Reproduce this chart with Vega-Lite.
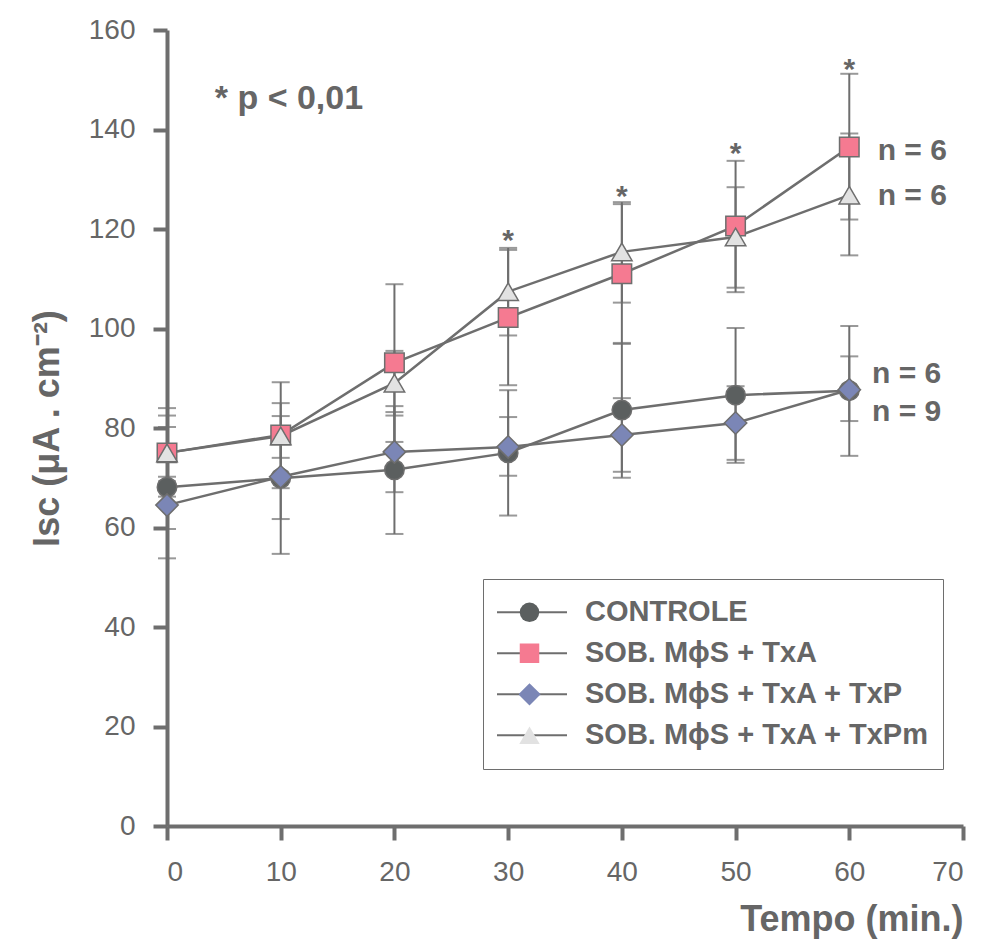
{
  "$schema": "https://vega.github.io/schema/vega-lite/v6.json",
  "width": 796,
  "height": 796,
  "autosize": {"type": "none"},
  "padding": {"left": 167, "top": 30, "right": 19, "bottom": 121},
  "background": "white",
  "config": {
    "view": {"stroke": null},
    "font": "Liberation Sans",
    "axis": {
      "domainColor": "#6e6e6e", "domainWidth": 4,
      "tickColor": "#6e6e6e", "tickWidth": 4, "tickSize": 14,
      "labelFont": "Liberation Sans", "labelFontSize": 28, "labelColor": "#666666",
      "titleFont": "Liberation Sans", "titleFontSize": 36, "titleFontWeight": "bold", "titleColor": "#666666",
      "grid": false
    },
    "axisY": {"labelPadding": 18, "titlePadding": 22},
    "axisX": {"labelPadding": 18, "titlePadding": 16, "titleAnchor": "end"}
  },
  "datasets": {
    "medias": [
      {"grupo": "CONTROLE", "t": 0, "media": 68.1, "lo": 53.8, "hi": 82.5},
      {"grupo": "CONTROLE", "t": 10, "media": 69.9, "lo": 54.7, "hi": 85.0},
      {"grupo": "CONTROLE", "t": 20, "media": 71.6, "lo": 58.7, "hi": 84.4},
      {"grupo": "CONTROLE", "t": 30, "media": 75.0, "lo": 62.4, "hi": 87.6},
      {"grupo": "CONTROLE", "t": 40, "media": 83.6, "lo": 70.0, "hi": 97.1},
      {"grupo": "CONTROLE", "t": 50, "media": 86.6, "lo": 73.0, "hi": 100.1},
      {"grupo": "CONTROLE", "t": 60, "media": 87.5, "lo": 74.4, "hi": 100.5},
      {"grupo": "SOB. MϕS + TxA", "t": 0, "media": 75.0, "lo": 66.2, "hi": 84.0},
      {"grupo": "SOB. MϕS + TxA", "t": 10, "media": 78.6, "lo": 67.9, "hi": 89.2},
      {"grupo": "SOB. MϕS + TxA", "t": 20, "media": 93.1, "lo": 77.2, "hi": 108.9},
      {"grupo": "SOB. MϕS + TxA", "t": 30, "media": 102.2, "lo": 88.6, "hi": 115.8},
      {"grupo": "SOB. MϕS + TxA", "t": 40, "media": 111.0, "lo": 96.9, "hi": 125.0},
      {"grupo": "SOB. MϕS + TxA", "t": 50, "media": 120.6, "lo": 107.3, "hi": 133.7},
      {"grupo": "SOB. MϕS + TxA", "t": 60, "media": 136.5, "lo": 121.9, "hi": 151.2},
      {"grupo": "SOB. MϕS + TxA + TxP", "t": 0, "media": 64.5, "lo": 59.7, "hi": 69.3},
      {"grupo": "SOB. MϕS + TxA + TxP", "t": 10, "media": 70.2, "lo": 61.7, "hi": 78.7},
      {"grupo": "SOB. MϕS + TxA + TxP", "t": 20, "media": 75.2, "lo": 67.1, "hi": 83.2},
      {"grupo": "SOB. MϕS + TxA + TxP", "t": 30, "media": 76.2, "lo": 70.4, "hi": 82.2},
      {"grupo": "SOB. MϕS + TxA + TxP", "t": 40, "media": 78.6, "lo": 71.2, "hi": 86.0},
      {"grupo": "SOB. MϕS + TxA + TxP", "t": 50, "media": 81.0, "lo": 73.6, "hi": 88.4},
      {"grupo": "SOB. MϕS + TxA + TxP", "t": 60, "media": 87.7, "lo": 81.4, "hi": 94.4},
      {"grupo": "SOB. MϕS + TxA + TxPm", "t": 0, "media": 75.0, "lo": 70.2, "hi": 80.2},
      {"grupo": "SOB. MϕS + TxA + TxPm", "t": 10, "media": 78.4, "lo": 74.0, "hi": 82.4},
      {"grupo": "SOB. MϕS + TxA + TxPm", "t": 20, "media": 89.0, "lo": 82.5, "hi": 95.5},
      {"grupo": "SOB. MϕS + TxA + TxPm", "t": 30, "media": 107.4, "lo": 98.6, "hi": 116.2},
      {"grupo": "SOB. MϕS + TxA + TxPm", "t": 40, "media": 115.4, "lo": 105.2, "hi": 125.4},
      {"grupo": "SOB. MϕS + TxA + TxPm", "t": 50, "media": 118.4, "lo": 108.2, "hi": 128.4},
      {"grupo": "SOB. MϕS + TxA + TxPm", "t": 60, "media": 126.8, "lo": 114.7, "hi": 139.2}
    ],
    "asteriscos": [
      {"t": 30, "y": 119.0, "texto": "*"},
      {"t": 40, "y": 127.8, "texto": "*"},
      {"t": 50, "y": 136.5, "texto": "*"},
      {"t": 60, "y": 153.4, "texto": "*"}
    ],
    "ns": [
      {"t": 62.5, "y": 135.6, "texto": "n = 6"},
      {"t": 62.5, "y": 126.6, "texto": "n = 6"},
      {"t": 62.0, "y": 90.9, "texto": "n = 6"},
      {"t": 62.0, "y": 83.2, "texto": "n = 9"}
    ],
    "pvalor": [
      {"t": 4.2, "y": 146.1, "texto": "* p < 0,01"}
    ]
  },
  "layer": [
    {
      "data": {"name": "medias"},
      "mark": {"type": "rule", "color": "#6e6e6e", "strokeWidth": 2},
      "encoding": {
        "x": {"field": "t", "type": "quantitative", "title": "Tempo (min.)",
              "scale": {"domain": [0, 70], "nice": false, "zero": false},
              "axis": {"values": [0, 10, 20, 30, 40, 50, 60, 70]}},
        "y": {"field": "lo", "type": "quantitative", "title": "Isc (μA . cm⁻²)",
              "scale": {"domain": [0, 160], "nice": false},
              "axis": {"values": [0, 20, 40, 60, 80, 100, 120, 140, 160]}},
        "y2": {"field": "hi"}
      }
    },
    {
      "data": {"name": "medias"},
      "mark": {"type": "tick", "orient": "horizontal", "color": "#6e6e6e", "size": 18, "thickness": 2},
      "encoding": {
        "x": {"field": "t", "type": "quantitative", "title": "Tempo (min.)"},
        "y": {"field": "lo", "type": "quantitative", "title": "Isc (μA . cm⁻²)"}
      }
    },
    {
      "data": {"name": "medias"},
      "mark": {"type": "tick", "orient": "horizontal", "color": "#6e6e6e", "size": 18, "thickness": 2},
      "encoding": {
        "x": {"field": "t", "type": "quantitative", "title": "Tempo (min.)"},
        "y": {"field": "hi", "type": "quantitative", "title": "Isc (μA . cm⁻²)"}
      }
    },
    {
      "data": {"name": "medias"},
      "mark": {"type": "line", "strokeWidth": 2.5},
      "encoding": {
        "x": {"field": "t", "type": "quantitative", "title": "Tempo (min.)"},
        "y": {"field": "media", "type": "quantitative", "title": "Isc (μA . cm⁻²)"},
        "stroke": {"field": "grupo", "type": "nominal",
          "scale": {"domain": ["CONTROLE", "SOB. MϕS + TxA", "SOB. MϕS + TxA + TxP", "SOB. MϕS + TxA + TxPm"],
                    "range": ["#6e6e6e", "#6e6e6e", "#6e6e6e", "#6e6e6e"]},
          "legend": {"orient": "none", "legendX": 316, "legendY": 549, "title": null,
            "symbolType": "stroke", "symbolSize": 4900, "symbolStrokeWidth": 2,
            "clipHeight": 40.7, "rowPadding": 0, "labelOffset": 17,
            "labelFont": "Liberation Sans", "labelFontSize": 29, "labelFontWeight": "bold",
            "labelColor": "#666666", "labelLimit": 600, "padding": 13, "strokeColor": "#6e6e6e"}}
      }
    },
    {
      "data": {"name": "medias"},
      "mark": {"type": "point", "filled": true, "size": 380, "stroke": "#6e6e6e", "strokeWidth": 1.5, "opacity": 1},
      "encoding": {
        "x": {"field": "t", "type": "quantitative", "title": "Tempo (min.)"},
        "y": {"field": "media", "type": "quantitative", "title": "Isc (μA . cm⁻²)"},
        "shape": {"field": "grupo", "type": "nominal",
          "scale": {"range": ["circle", "square", "M-1.15,0L0,-1.15L1.15,0L0,1.15Z", "M0,-0.9L1.05,0.9L-1.05,0.9Z"]},
          "legend": {"orient": "none", "legendX": 352, "legendY": 562, "title": null,
            "symbolSize": 380, "symbolStrokeWidth": 1.5, "symbolStrokeColor": "#6e6e6e",
            "symbolOpacity": 1,
            "clipHeight": 40.7, "rowPadding": 0, "padding": 0, "labelOpacity": 0,
            "labelFontSize": 1,
            "encoding": {"symbols": {"update": {"stroke": {"value": "#6e6e6e"}, "strokeWidth": {"value": 1.5}}}}}},
        "fill": {"field": "grupo", "type": "nominal",
          "scale": {"range": ["#5b5f5f", "#f57a91", "#7b86b6", "#e2e2e2"]},
          "legend": {"orient": "none", "legendX": 352, "legendY": 562, "title": null,
            "symbolSize": 380, "symbolStrokeWidth": 1.5, "symbolStrokeColor": "#6e6e6e",
            "symbolOpacity": 1,
            "clipHeight": 40.7, "rowPadding": 0, "padding": 0, "labelOpacity": 0,
            "labelFontSize": 1,
            "encoding": {"symbols": {"update": {"stroke": {"value": "#6e6e6e"}, "strokeWidth": {"value": 1.5}}}}}}
      }
    },
    {
      "data": {"name": "asteriscos"},
      "mark": {"type": "text", "fontSize": 30, "fontWeight": "bold", "color": "#666666", "align": "center", "baseline": "middle", "dy": 7},
      "encoding": {
        "x": {"field": "t", "type": "quantitative", "title": "Tempo (min.)"},
        "y": {"field": "y", "type": "quantitative", "title": "Isc (μA . cm⁻²)"},
        "text": {"field": "texto"}
      }
    },
    {
      "data": {"name": "ns"},
      "mark": {"type": "text", "fontSize": 30, "fontWeight": "bold", "color": "#666666", "align": "left", "baseline": "middle"},
      "encoding": {
        "x": {"field": "t", "type": "quantitative", "title": "Tempo (min.)"},
        "y": {"field": "y", "type": "quantitative", "title": "Isc (μA . cm⁻²)"},
        "text": {"field": "texto"}
      }
    },
    {
      "data": {"name": "pvalor"},
      "mark": {"type": "text", "fontSize": 34, "fontWeight": "bold", "color": "#666666", "align": "left", "baseline": "middle"},
      "encoding": {
        "x": {"field": "t", "type": "quantitative", "title": "Tempo (min.)"},
        "y": {"field": "y", "type": "quantitative", "title": "Isc (μA . cm⁻²)"},
        "text": {"field": "texto"}
      }
    }
  ]
}
